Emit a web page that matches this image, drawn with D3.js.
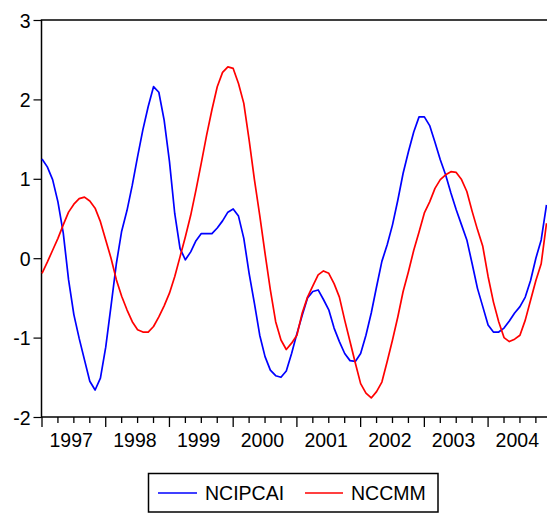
<!DOCTYPE html>
<html>
<head>
<meta charset="utf-8">
<script src="https://cdn.jsdelivr.net/npm/d3@7/dist/d3.min.js"></script>
<style>
  html, body { margin: 0; padding: 0; background: #fff; }
  svg { display: block; }
  text { font-family: "Liberation Sans", Arial, sans-serif; fill: #000; }
</style>
</head>
<body>
<svg id="chart" width="547" height="514"></svg>
<script>
// Monthly observations, 1997M01 - 2004M12
const startYear = 1997;
const yearLabels = ["1997", "1998", "1999", "2000", "2001", "2002", "2003", "2004"];
const yTicks = [-2, -1, 0, 1, 2, 3];

const ncipcai = [
  1.25, 1.15, 0.99, 0.71, 0.32, -0.27, -0.71, -1.01, -1.28, -1.55, -1.66, -1.51,
  -1.12, -0.60, -0.07, 0.34, 0.60, 0.92, 1.28, 1.62, 1.91, 2.16, 2.09, 1.74,
  1.22, 0.56, 0.12, -0.02, 0.08, 0.22, 0.31, 0.31, 0.31, 0.38, 0.47, 0.58,
  0.62, 0.53, 0.25, -0.19, -0.57, -0.97, -1.24, -1.41, -1.48, -1.50, -1.42, -1.20,
  -0.95, -0.72, -0.50, -0.42, -0.40, -0.52, -0.65, -0.88, -1.05, -1.20, -1.29, -1.30,
  -1.20, -0.97, -0.69, -0.36, -0.04, 0.17, 0.42, 0.73, 1.07, 1.34, 1.59, 1.78,
  1.78, 1.67, 1.46, 1.24, 1.05, 0.82, 0.61, 0.42, 0.23, -0.07, -0.38, -0.61,
  -0.84, -0.93, -0.93, -0.88, -0.79, -0.69, -0.61, -0.49, -0.28, 0.00, 0.23, 0.67
];

const nccmm = [
  -0.19, -0.05, 0.10, 0.25, 0.42, 0.58, 0.68, 0.75, 0.77, 0.72, 0.63, 0.46,
  0.23, 0.00, -0.27, -0.48, -0.65, -0.80, -0.90, -0.93, -0.93, -0.86, -0.74, -0.60,
  -0.44, -0.23, 0.02, 0.27, 0.54, 0.86, 1.20, 1.55, 1.87, 2.16, 2.34, 2.41,
  2.39, 2.20, 1.95, 1.49, 0.99, 0.54, 0.06, -0.40, -0.80, -1.03, -1.15, -1.07,
  -0.97, -0.69, -0.49, -0.35, -0.21, -0.16, -0.19, -0.32, -0.49, -0.78, -1.05, -1.32,
  -1.58, -1.70, -1.76, -1.68, -1.56, -1.30, -1.03, -0.74, -0.42, -0.17, 0.10, 0.33,
  0.57, 0.71, 0.88, 0.99, 1.05, 1.09, 1.08, 0.99, 0.84, 0.59, 0.36, 0.15,
  -0.23, -0.55, -0.80, -1.00, -1.05, -1.02, -0.97, -0.78, -0.53, -0.28, -0.07, 0.44
];

const seriesNames = ["NCIPCAI", "NCCMM"];
const seriesColors = ["#0000ff", "#ff0000"];

(function draw() {
  const svg = d3.select("#chart");
  const plotLeft = 41.5, plotTop = 20, plotBottom = 417, plotRight = 549;
  const n = ncipcai.length;

  // observation index -> x; 95 steps across the plotted width
  const x = d3.scaleLinear().domain([0, n - 1]).range([42, 546.5]);
  const y = d3.scaleLinear().domain([-2, 3]).range([plotBottom, plotTop]);

  // frame
  svg.append("rect")
    .attr("x", plotLeft).attr("y", plotTop)
    .attr("width", plotRight - plotLeft).attr("height", plotBottom - plotTop)
    .attr("fill", "none").attr("stroke", "#000").attr("stroke-width", 1.5);

  // left axis (plain hyphen for negative values)
  const yAxis = d3.axisLeft(y).tickValues(yTicks).tickSize(8).tickPadding(3)
    .tickFormat(d => String(d));
  const gy = svg.append("g").attr("transform", `translate(${plotLeft},0)`).call(yAxis);
  gy.select(".domain").remove();
  gy.selectAll("line").attr("stroke", "#000").attr("stroke-width", 1.2);
  gy.selectAll("text").style("font-size", "19.5px")
    .style("font-family", '"Liberation Sans", Arial, sans-serif').attr("dy", "0.36em");

  // bottom axis: quarterly minor ticks, yearly major ticks
  const quarterIdx = d3.range(0, n + 1, 3);
  const gx = svg.append("g");
  gx.selectAll("line.q").data(quarterIdx).join("line")
    .attr("x1", d => x(d)).attr("x2", d => x(d))
    .attr("y1", plotBottom).attr("y2", d => plotBottom + (d % 12 === 0 ? 10 : 6))
    .attr("stroke", "#000").attr("stroke-width", 1.3);
  gx.selectAll("text").data(yearLabels).join("text")
    .attr("x", (d, i) => x(i * 12 + 5.5))
    .attr("y", 447)
    .attr("text-anchor", "middle")
    .style("font-size", "19.5px")
    .text(d => d);

  // series lines
  const line = d3.line().x((d, i) => x(i)).y(d => y(d));
  [ncipcai, nccmm].forEach((s, k) => {
    svg.append("path").datum(s)
      .attr("d", line)
      .attr("fill", "none")
      .attr("stroke", seriesColors[k])
      .attr("stroke-width", 1.7)
      .attr("stroke-linejoin", "round");
  });

  // legend
  const lg = svg.append("g");
  lg.append("rect").attr("x", 148.5).attr("y", 473.5).attr("width", 289.5).attr("height", 38.5)
    .attr("fill", "#fff").attr("stroke", "#000").attr("stroke-width", 1.5);
  const legendItems = [
    { x1: 158, x2: 197, tx: 205 },
    { x1: 305, x2: 343, tx: 351 }
  ];
  legendItems.forEach((it, k) => {
    lg.append("line").attr("x1", it.x1).attr("x2", it.x2).attr("y1", 493).attr("y2", 493)
      .attr("stroke", seriesColors[k]).attr("stroke-width", 1.5);
    lg.append("text").attr("x", it.tx).attr("y", 500).style("font-size", "19.5px")
      .text(seriesNames[k]);
  });
})();
</script>
</body>
</html>
